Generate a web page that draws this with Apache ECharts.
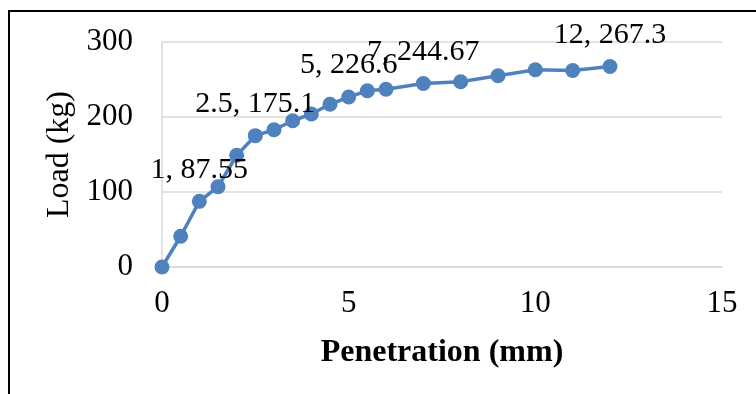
<!DOCTYPE html>
<html>
<head>
<meta charset="utf-8">
<script src="https://cdn.jsdelivr.net/npm/echarts@6/dist/echarts.min.js"></script>
<style>
html,body{margin:0;padding:0;background:#fff;}
#chart{width:756px;height:394px;}
</style>
</head>
<body>
<div id="chart"></div>
<script>
const penetration = [0, 0.5, 1, 1.5, 2, 2.5, 3, 3.5, 4, 4.5, 5, 5.5, 6, 7, 8, 9, 10, 11, 12];
const load = [0, 41, 87.55, 107, 149, 175.1, 183, 195, 204, 217, 226.6, 235, 237, 244.67, 247, 255, 263, 262, 267.3];
const labelledX = [1, 2.5, 5, 7, 12];
const xTicks = [0, 5, 10, 15];
const yTicks = [0, 100, 200, 300];

const FONT = '"Liberation Serif", "Times New Roman", serif';
const data = penetration.map((x, i) => {
  const show = labelledX.indexOf(x) >= 0;
  return {value: [x, load[i]], label: {show: show}};
});

const chart = echarts.init(document.getElementById('chart'), null, {renderer: 'canvas'});
chart.setOption({
  animation: false,
  backgroundColor: '#fff',
  grid: {left: 162, right: 34, top: 42, bottom: 127, containLabel: false},
  xAxis: {
    type: 'value', min: xTicks[0], max: xTicks[xTicks.length - 1], interval: 5,
    name: 'Penetration (mm)', nameLocation: 'middle', nameGap: 70,
    nameTextStyle: {fontFamily: FONT, fontSize: 32, fontWeight: 'bold', color: '#000'},
    axisLine: {show: true, lineStyle: {color: '#d9d9d9', width: 1.5}},
    axisTick: {show: false},
    splitLine: {show: false},
    axisLabel: {fontFamily: FONT, fontSize: 31, color: '#000', margin: 21}
  },
  yAxis: {
    type: 'value', min: yTicks[0], max: yTicks[yTicks.length - 1], interval: 100,
    name: 'Load (kg)', nameLocation: 'middle', nameGap: 84, nameRotate: 90,
    nameTextStyle: {fontFamily: FONT, fontSize: 32, color: '#000'},
    axisLine: {show: true, lineStyle: {color: '#d9d9d9', width: 1.5}},
    axisTick: {show: false},
    splitLine: {show: true, lineStyle: {color: '#d9d9d9', width: 1.5}},
    axisLabel: {fontFamily: FONT, fontSize: 31, color: '#000', margin: 29}
  },
  series: [{
    type: 'line',
    data: data,
    symbol: 'circle',
    symbolSize: 15,
    lineStyle: {color: '#4f81bd', width: 3.5},
    itemStyle: {color: '#4f81bd'},
    label: {
      position: 'top', distance: 9,
      fontFamily: FONT, fontSize: 30, color: '#000',
      formatter: p => p.value[0] + ', ' + p.value[1]
    },
    z: 3
  }],
  graphic: [{
    type: 'polyline',
    shape: {points: [[9, 394], [9, 11], [756, 11]]},
    style: {stroke: '#000', lineWidth: 2, fill: null},
    z: 10
  }]
});
</script>
</body>
</html>
